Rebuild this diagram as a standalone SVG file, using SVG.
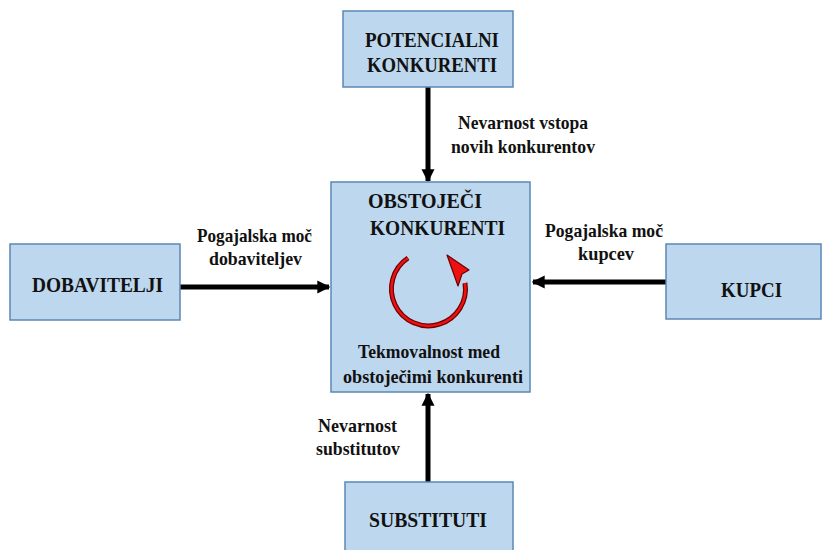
<svg xmlns="http://www.w3.org/2000/svg" width="822" height="550" viewBox="0 0 822 550">
<defs>
<style>
.box{fill:#BDD7EE;stroke:#5B88B5;stroke-width:1.5}
text{font-family:'Liberation Serif','Times New Roman',serif;font-weight:bold;fill:#111}
.n{font-size:22px}
.l{font-size:19px}
.c{stroke:#000;stroke-width:5;fill:none}
</style>
<marker id="ah" viewBox="0 0 10 10" refX="9" refY="5" markerWidth="2.6" markerHeight="2.8" orient="auto" markerUnits="strokeWidth">
<path d="M0,0 L10,5 L0,10 Z" fill="#000"/>
</marker>
</defs>
<rect width="822" height="550" fill="#fff"/>
<g id="connectors">
<line class="c" x1="428" y1="87" x2="428" y2="181" marker-end="url(#ah)"/>
<line class="c" x1="180" y1="287" x2="329" y2="287" marker-end="url(#ah)"/>
<line class="c" x1="666" y1="282" x2="533" y2="282" marker-end="url(#ah)"/>
<line class="c" x1="428" y1="482" x2="428" y2="394" marker-end="url(#ah)"/>
</g>
<g id="potencialni">
<rect class="box" x="343" y="11" width="170" height="76"/>
<text class="n" x="365" y="47" textLength="134" lengthAdjust="spacingAndGlyphs">POTENCIALNI</text>
<text class="n" x="367" y="72" textLength="130" lengthAdjust="spacingAndGlyphs">KONKURENTI</text>
</g>
<g id="obstojeci">
<rect class="box" x="331" y="182" width="199" height="210"/>
<text class="n" x="368" y="208" textLength="114" lengthAdjust="spacingAndGlyphs">OBSTOJEČI</text>
<text class="n" x="370" y="235" textLength="135" lengthAdjust="spacingAndGlyphs">KONKURENTI</text>
<path d="M408,258 A37,37 0 1 0 465,283" fill="none" stroke="#6e0000" stroke-width="5"/>
<path d="M408,258 A37,37 0 1 0 465,283" fill="none" stroke="#ee1111" stroke-width="2.5"/>
<polygon points="447,255 469,270 462,274 458,286" fill="#ee1111" stroke="#6e0000" stroke-width="1.2" stroke-linejoin="round"/>
<text class="l" x="358" y="358" textLength="142" lengthAdjust="spacingAndGlyphs">Tekmovalnost med</text>
<text class="l" x="343" y="383" textLength="180" lengthAdjust="spacingAndGlyphs">obstoječimi konkurenti</text>
</g>
<g id="dobavitelji">
<rect class="box" x="10" y="244" width="170" height="76"/>
<text class="n" x="32" y="292" textLength="131" lengthAdjust="spacingAndGlyphs">DOBAVITELJI</text>
</g>
<g id="kupci">
<rect class="box" x="666" y="244" width="155" height="75"/>
<text class="n" x="721" y="297" textLength="61" lengthAdjust="spacingAndGlyphs">KUPCI</text>
</g>
<g id="substituti">
<rect class="box" x="345" y="482" width="168" height="70"/>
<text class="n" x="369" y="527" textLength="118" lengthAdjust="spacingAndGlyphs">SUBSTITUTI</text>
</g>
<g id="labels">
<text class="l" x="458" y="129" textLength="130" lengthAdjust="spacingAndGlyphs">Nevarnost vstopa</text>
<text class="l" x="451" y="153" textLength="144" lengthAdjust="spacingAndGlyphs">novih konkurentov</text>
<text class="l" x="197" y="242" textLength="115" lengthAdjust="spacingAndGlyphs">Pogajalska moč</text>
<text class="l" x="209" y="265" textLength="93" lengthAdjust="spacingAndGlyphs">dobaviteljev</text>
<text class="l" x="545" y="237" textLength="118" lengthAdjust="spacingAndGlyphs">Pogajalska moč</text>
<text class="l" x="578" y="260" textLength="56" lengthAdjust="spacingAndGlyphs">kupcev</text>
<text class="l" x="318" y="432" textLength="79" lengthAdjust="spacingAndGlyphs">Nevarnost</text>
<text class="l" x="316" y="455" textLength="84" lengthAdjust="spacingAndGlyphs">substitutov</text>
</g>
</svg>
